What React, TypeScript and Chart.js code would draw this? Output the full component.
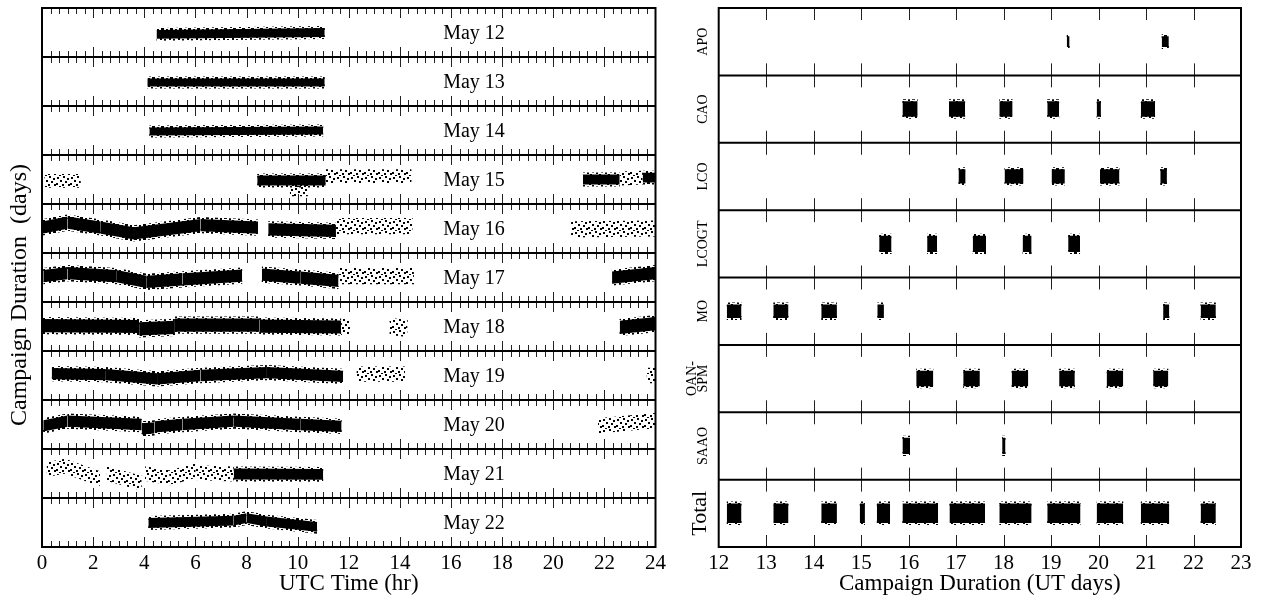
import React, { useEffect, useRef } from 'react';
import { Chart, registerables } from 'chart.js';

Chart.register(...registerables);

// ---------------- Left panel data (UTC time, one row per night) ----------------
const DAY_LABELS = ['May 12', 'May 13', 'May 14', 'May 15', 'May 16', 'May 17', 'May 18', 'May 19', 'May 20', 'May 21', 'May 22'];
const HOUR_TICKS = [0, 2, 4, 6, 8, 10, 12, 14, 16, 18, 20, 22, 24];
// light-curve scatter (full band width, in row units)
const DAY_SCATTER = [0.18, 0.16, 0.16, 0.2, 0.25, 0.25, 0.27, 0.23, 0.23, 0.22, 0.2];
// densely sampled runs: [startHr, endHr, levelAtStart, levelAtEnd] (level in row units, + = up)
const DENSE_RUNS: number[][][] = [
  [[4.48, 11.06, -0.04, 0.0]],
  [[4.12, 11.06, -0.02, -0.02]],
  [[4.2, 11.0, -0.02, 0.0]],
  [[8.42, 11.1, -0.02, -0.02], [21.16, 22.6, 0.0, 0.0], [23.5, 24, 0.04, 0.04]],
  [[0, 1.0, 0.02, 0.12], [1.0, 2.3, 0.12, 0.02], [2.3, 3.6, 0.02, -0.1], [3.6, 6.2, -0.1, 0.07], [6.2, 8.45, 0.07, 0.02], [8.85, 11.5, -0.02, -0.05]],
  [[0.05, 1.0, 0.03, 0.09], [1.0, 2.9, 0.09, 0.03], [2.9, 4.1, 0.03, -0.09], [4.1, 5.5, -0.09, -0.04], [5.5, 7.83, -0.04, 0.04], [8.6, 10.1, 0.06, 0.0], [10.1, 11.6, 0.0, -0.07], [22.3, 24, 0.0, 0.09]],
  [[0, 3.8, 0.02, 0.0], [3.8, 5.2, -0.05, -0.02], [5.2, 8.5, 0.03, 0.03], [8.5, 11.7, 0.01, -0.01], [22.6, 24, -0.02, 0.06]],
  [[0.38, 2.5, 0.04, 0.02], [2.5, 4.5, 0.02, -0.07], [4.5, 6.2, -0.07, 0.0], [6.2, 8.8, 0.0, 0.06], [8.8, 11.78, 0.06, -0.02]],
  [[0.05, 1.0, -0.03, 0.07], [1.0, 3.9, 0.07, 0.0], [3.9, 4.4, -0.09, -0.07], [4.4, 5.5, -0.05, 0.0], [5.5, 7.5, 0.0, 0.07], [7.5, 10.1, 0.07, 0.0], [10.1, 11.72, 0.0, -0.04]],
  [[7.5, 11.0, -0.01, -0.02]],
  [[4.16, 7.5, -0.01, 0.04], [7.5, 8.0, 0.04, 0.09], [8.0, 8.8, 0.09, 0.02], [8.8, 10.76, 0.02, -0.09]],
];
// sparsely sampled runs
const SPARSE_RUNS: number[][][] = [
  [],
  [],
  [],
  [[0.1, 1.52, -0.03, -0.03], [9.7, 10.4, -0.2, -0.2], [11.1, 14.45, 0.07, 0.07], [22.6, 23.5, 0.02, 0.04]],
  [[11.5, 14.5, 0.05, 0.05], [20.7, 24, -0.02, 0.0]],
  [[11.6, 14.55, 0.03, 0.03]],
  [[11.7, 12.05, 0.0, 0.0], [13.6, 14.3, 0.0, -0.04]],
  [[12.3, 14.2, 0.03, 0.03], [23.65, 24, 0.0, 0.0]],
  [[21.75, 24, -0.03, 0.08]],
  [[0.18, 0.9, 0.08, 0.15], [0.9, 2.27, 0.15, -0.11], [2.53, 3.9, 0.0, -0.2], [4.03, 5.0, 0.0, -0.09], [5.0, 6.0, -0.09, 0.06], [6.0, 7.5, 0.02, -0.01]],
  [],
];

// ---------------- Right panel data (campaign days, one row per site) ----------------
const STATIONS = ['APO', 'CAO', 'LCO', 'LCOGT', 'MO', 'OAN-\nSPM', 'SAAO', 'Total'];
const DAY_TICKS = [12, 13, 14, 15, 16, 17, 18, 19, 20, 21, 22, 23];
const APO_RUNS = [[19.33, 19.39], [21.33, 21.48]];
const CAO_RUNS = [[15.87, 16.19], [16.85, 17.19], [17.91, 18.19], [18.92, 19.17], [19.96, 20.05], [20.89, 21.19]];
const LCO_RUNS = [[17.05, 17.2], [18.02, 18.42], [19.01, 19.29], [20.03, 20.44], [21.3, 21.44]];
const LCOGT_RUNS = [[15.38, 15.64], [16.39, 16.6], [17.35, 17.63], [18.4, 18.59], [19.36, 19.61]];
const MO_RUNS = [[12.17, 12.48], [13.15, 13.47], [14.16, 14.49], [15.34, 15.48], [21.36, 21.49], [22.15, 22.47]];
const OAN_SPM_RUNS = [[16.16, 16.52], [17.15, 17.5], [18.17, 18.52], [19.17, 19.5], [20.17, 20.52], [21.15, 21.47]];
const SAAO_RUNS = [[15.87, 16.03], [17.97, 18.04]];
const TOTAL_RUNS = [[12.17, 12.48], [13.15, 13.47], [14.16, 14.49], [14.97, 15.08], [15.33, 15.61], [15.87, 16.62], [16.86, 17.61], [17.91, 18.59], [18.92, 19.62], [19.96, 20.52], [20.89, 21.49], [22.15, 22.47]];
const STATION_SCATTER = [0.16, 0.23, 0.21, 0.24, 0.2, 0.23, 0.24, 0.29];

const FONT = "'Liberation Serif', 'Times New Roman', Times, serif";

function makePattern(kind: string): CanvasPattern | string {
  const c = document.createElement('canvas');
  const g = c.getContext('2d');
  if (!g) return '#000';
  g.fillStyle = '#000';
  if (kind === 'fuzz') {
    c.width = 9; c.height = 7;
    g.fillStyle = '#000';
    [[0, 0], [4, 1], [7, 3], [2, 4], [5, 6], [8, 0]].forEach(([x, y]) => g.fillRect(x, y, 2, 2));
  } else {
    c.width = 14; c.height = 11;
    g.fillStyle = '#000';
    [[1, 1], [7, 0], [11, 2], [4, 4], [9, 5], [0, 7], [6, 8], [12, 8], [3, 10]].forEach(([x, y]) => g.fillRect(x, y, 2, 2));
  }
  return g.createPattern(c, 'repeat') || '#000';
}

function band(x0: number, x1: number, y0: number, y1: number, half: number, fillStyle: any, edgeStyle: any) {
  const base = {
    type: 'line',
    borderColor: edgeStyle,
    borderWidth: 4,
    borderCapStyle: 'butt',
    pointRadius: 0,
    pointHoverRadius: 0,
    tension: 0,
  };
  return [
    { ...base, data: [{ x: x0, y: y0 - half }, { x: x1, y: y1 - half }], fill: false },
    { ...base, data: [{ x: x0, y: y0 + half }, { x: x1, y: y1 + half }], fill: '-1', backgroundColor: fillStyle },
  ];
}

function drawTicks(ctx: CanvasRenderingContext2D, xs: { v: number; len: number }[], x: any, y: any, rows: number) {
  ctx.save();
  ctx.strokeStyle = '#222';
  ctx.lineWidth = 1;
  for (let r = 0; r <= rows; r++) {
    const py = y.getPixelForValue(r);
    xs.forEach(({ v, len }) => {
      const px = Math.round(x.getPixelForValue(v)) + 0.5;
      const up = r > 0 ? len : 0;
      const down = r < rows ? len : 0;
      ctx.beginPath();
      ctx.moveTo(px, py - up);
      ctx.lineTo(px, py + down);
      ctx.stroke();
    });
  }
  ctx.restore();
}

function drawFrame(ctx: CanvasRenderingContext2D, chart: any, rows: number, title: string) {
  const a = chart.chartArea;
  const y = chart.scales.y;
  ctx.save();
  ctx.strokeStyle = '#000';
  ctx.lineWidth = 2;
  ctx.strokeRect(a.left, a.top, a.right - a.left, a.bottom - a.top);
  for (let r = 1; r < rows; r++) {
    const py = y.getPixelForValue(r);
    ctx.beginPath();
    ctx.moveTo(a.left, py);
    ctx.lineTo(a.right, py);
    ctx.stroke();
  }
  // axis title
  ctx.fillStyle = '#000';
  ctx.font = `23px ${FONT}`;
  ctx.textAlign = 'center';
  ctx.textBaseline = 'alphabetic';
  ctx.fillText(title, (a.left + a.right) / 2, a.bottom + 43);
  ctx.restore();
}

function xAxis(min: number, max: number, ticks: number[]) {
  return {
    type: 'linear',
    min,
    max,
    grid: { display: false, drawTicks: false },
    border: { display: false },
    afterBuildTicks: (s: any) => { s.ticks = ticks.map((v) => ({ value: v })); },
    ticks: { color: '#000', font: { family: FONT, size: 21, lineHeight: 1.2 }, padding: 4, maxRotation: 0 },
    title: { display: false },
  };
}

const LEFT_TITLE = 'UTC Time (hr)';
const RIGHT_TITLE = 'Campaign Duration (UT days)';
const Y_TITLE = 'Campaign Duration  (days)';

export default function App() {
  const leftRef = useRef<HTMLCanvasElement>(null);
  const rightRef = useRef<HTMLCanvasElement>(null);

  useEffect(() => {
    const solid = '#000';
    const fuzz = makePattern('fuzz');
    const sparse = makePattern('sparse');

    // ---------- left chart ----------
    const leftDatasets: any[] = [];
    DAY_LABELS.forEach((_, row) => {
      const half = DAY_SCATTER[row] / 2;
      const yc = row + 0.5;
      DENSE_RUNS[row].forEach(([t0, t1, l0, l1]) => leftDatasets.push(...band(t0, t1, yc - l0, yc - l1, half, solid, fuzz)));
      SPARSE_RUNS[row].forEach(([t0, t1, l0, l1]) => leftDatasets.push(...band(t0, t1, yc - l0, yc - l1, half, sparse, sparse)));
    });

    const hourMarks: { v: number; len: number }[] = [];
    for (let k = 1; k < 72; k++) hourMarks.push({ v: k / 3, len: k % 6 === 0 ? 10 : 6 });

    const leftDecor = {
      id: 'leftDecor',
      beforeDatasetsDraw(chart: any) {
        drawTicks(chart.ctx, hourMarks, chart.scales.x, chart.scales.y, DAY_LABELS.length);
      },
      afterDatasetsDraw(chart: any) {
        const ctx = chart.ctx as CanvasRenderingContext2D;
        drawFrame(ctx, chart, DAY_LABELS.length, LEFT_TITLE);
        const { x, y } = chart.scales;
        ctx.save();
        ctx.fillStyle = '#000';
        ctx.font = `20px ${FONT}`;
        ctx.textAlign = 'center';
        ctx.textBaseline = 'alphabetic';
        DAY_LABELS.forEach((lab, row) => {
          ctx.fillText(lab, x.getPixelForValue(16.9), y.getPixelForValue(row + 0.5) + 6);
        });
        ctx.translate(20, 295);
        ctx.rotate(-Math.PI / 2);
        ctx.font = `24px ${FONT}`;
        ctx.textBaseline = 'middle';
        ctx.fillText(Y_TITLE, 0, 0);
        ctx.restore();
      },
    };

    const left = new Chart(leftRef.current as HTMLCanvasElement, {
      type: 'line',
      data: { datasets: leftDatasets },
      options: {
        animation: false,
        responsive: false,
        events: [],
        layout: { padding: { left: 42, right: 14, top: 8, bottom: 20.8 } },
        plugins: { legend: { display: false }, tooltip: { enabled: false } },
        scales: {
          x: xAxis(0, 24, HOUR_TICKS),
          y: { type: 'linear', min: 0, max: DAY_LABELS.length, reverse: true, display: false },
        },
      },
      plugins: [leftDecor],
    } as any);

    // ---------- right chart ----------
    const stationRuns = [APO_RUNS, CAO_RUNS, LCO_RUNS, LCOGT_RUNS, MO_RUNS, OAN_SPM_RUNS, SAAO_RUNS, TOTAL_RUNS];
    const rightDatasets: any[] = [];
    stationRuns.forEach((runs, row) => {
      const half = STATION_SCATTER[row] / 2;
      const yc = row + 0.5;
      runs.forEach(([d0, d1]) => rightDatasets.push(...band(d0, d1, yc, yc, half, solid, fuzz)));
    });
    const dayMarks = DAY_TICKS.slice(1, -1).map((v) => ({ v, len: 12 }));

    const rightDecor = {
      id: 'rightDecor',
      beforeDatasetsDraw(chart: any) {
        drawTicks(chart.ctx, dayMarks, chart.scales.x, chart.scales.y, STATIONS.length);
      },
      afterDatasetsDraw(chart: any) {
        const ctx = chart.ctx as CanvasRenderingContext2D;
        drawFrame(ctx, chart, STATIONS.length, RIGHT_TITLE);
        const { y } = chart.scales;
        const a = chart.chartArea;
        ctx.save();
        ctx.fillStyle = '#000';
        ctx.textAlign = 'center';
        ctx.textBaseline = 'middle';
        STATIONS.forEach((lab, row) => {
          const cy = y.getPixelForValue(row + 0.5);
          const lines = lab.split('\n');
          const isTotal = row === STATIONS.length - 1;
          ctx.save();
          ctx.font = isTotal ? `22px ${FONT}` : `14px ${FONT}`;
          const lh = 11;
          const cx = isTotal ? a.left - 18 : a.left - 15 - (lines.length - 1) * lh;
          ctx.translate(cx, cy);
          ctx.rotate(-Math.PI / 2);
          lines.forEach((ln, i) => ctx.fillText(ln, 0, i * lh));
          ctx.restore();
        });
        ctx.restore();
      },
    };

    const right = new Chart(rightRef.current as HTMLCanvasElement, {
      type: 'line',
      data: { datasets: rightDatasets },
      options: {
        animation: false,
        responsive: false,
        events: [],
        layout: { padding: { left: 48.7, right: 20, top: 8, bottom: 20.8 } },
        plugins: { legend: { display: false }, tooltip: { enabled: false } },
        scales: {
          x: xAxis(DAY_TICKS[0], DAY_TICKS[DAY_TICKS.length - 1], DAY_TICKS),
          y: { type: 'linear', min: 0, max: STATIONS.length, reverse: true, display: false },
        },
      },
      plugins: [rightDecor],
    } as any);

    return () => {
      left.destroy();
      right.destroy();
    };
  }, []);

  return (
    <div style={{ position: 'fixed', left: 0, top: 0, width: 1261, height: 601, background: '#fff' }}>
      <canvas ref={leftRef} width={670} height={601} style={{ position: 'absolute', left: 0, top: 0 }} />
      <canvas ref={rightRef} width={591} height={601} style={{ position: 'absolute', left: 670, top: 0 }} />
    </div>
  );
}
